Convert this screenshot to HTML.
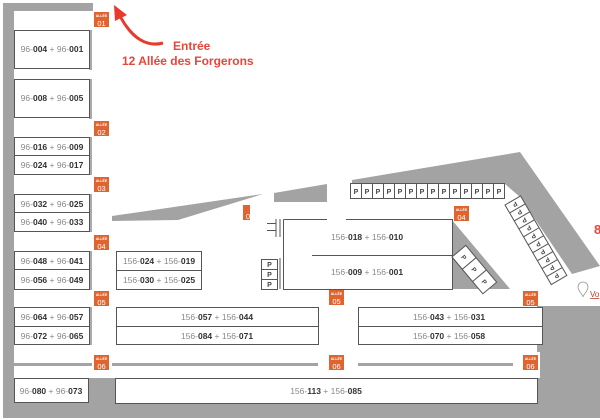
<!DOCTYPE html>
<html><head><meta charset="utf-8"><style>
html,body{margin:0;padding:0;background:#fff;}
body{width:600px;height:420px;overflow:hidden;position:relative;font-family:"Liberation Sans",sans-serif;}
svg{position:absolute;left:0;top:0;}
.l{font-family:"Liberation Sans",sans-serif;font-size:8.5px;fill:#888;}
.l tspan.b{fill:#333;font-weight:bold;}
.p{font-family:"Liberation Sans",sans-serif;font-size:7px;fill:#444;font-weight:bold;}
</style></head><body>
<svg width="600" height="420" viewBox="0 0 600 420">
<defs>
<g id="badge"><rect x="0" y="0" width="15" height="15" fill="#e0642f"/><text x="7.5" y="5" font-size="3.5" fill="#fff" text-anchor="middle" font-family="Liberation Sans" font-weight="bold">ALLÉE</text></g>
</defs>
<rect x="3" y="3" width="11" height="415" rx="3" fill="#a3a3a3"/>
<rect x="3" y="3" width="90" height="8" fill="#a3a3a3"/>
<rect x="3" y="402" width="597" height="16" fill="#a3a3a3"/>
<rect x="537" y="306" width="63" height="100" fill="#a3a3a3"/>
<rect x="86" y="376" width="32" height="30" fill="#a3a3a3"/>
<rect x="14" y="352" width="526" height="26" fill="#fff"/>
<rect x="89" y="30" width="3" height="40" fill="#aaa"/>
<rect x="89" y="79" width="3" height="40" fill="#aaa"/>
<rect x="89" y="137" width="3" height="38" fill="#aaa"/>
<rect x="89" y="194" width="3" height="38" fill="#aaa"/>
<rect x="89" y="251" width="3" height="39" fill="#aaa"/>
<rect x="89" y="307" width="3" height="38" fill="#aaa"/>
<rect x="14" y="363" width="78" height="3" fill="#a3a3a3"/>
<rect x="112" y="363" width="206" height="3" fill="#a3a3a3"/>
<rect x="358" y="363" width="155" height="3" fill="#a3a3a3"/>
<polygon points="112,221 178,220 263,194 112,216" fill="#a3a3a3"/>
<polygon points="274,193 327,184 327,202 274,202" fill="#a3a3a3"/>
<polygon points="352,180 520,152 600,266 572,274 520,197 505,184 352,184" fill="#a3a3a3"/>
<polygon points="452,220 510,289 452,289" fill="#a3a3a3"/>
<g fill="#fff" stroke="#555" stroke-width="1">
<rect x="14.5" y="30.5" width="75" height="38"/>
<rect x="14.5" y="79.5" width="75" height="38"/>
<rect x="14.5" y="137.5" width="75" height="18"/>
<rect x="14.5" y="155.5" width="75" height="19"/>
<rect x="14.5" y="194.5" width="75" height="18"/>
<rect x="14.5" y="212.5" width="75" height="19"/>
<rect x="14.5" y="251.5" width="75" height="18"/>
<rect x="14.5" y="269.5" width="75" height="20"/>
<rect x="14.5" y="307.5" width="75" height="19"/>
<rect x="14.5" y="326.5" width="75" height="18"/>
<rect x="14.5" y="378.5" width="74" height="24"/>
<rect x="116.5" y="251.5" width="85" height="19"/>
<rect x="116.5" y="270.5" width="85" height="19"/>
<rect x="116.5" y="307.5" width="202" height="19"/>
<rect x="116.5" y="326.5" width="202" height="18"/>
<rect x="358.5" y="307.5" width="184" height="19"/>
<rect x="358.5" y="326.5" width="184" height="18"/>
<rect x="115.5" y="378.5" width="422" height="25"/>
</g>
<rect x="283" y="219" width="169" height="70" fill="#fff"/>
<path d="M283.5 219.5 H327 M346 219.5 H452.5 V289.5 H283.5 V219.5 M312 255.5 H452" fill="none" stroke="#555" stroke-width="1"/>
<path d="M267 223.5 H276 M267 230.5 H276 M276 219 V237 M280 219 V237" stroke="#555" fill="none"/>
<g fill="#fff" stroke="#555"><rect x="261.5" y="259.5" width="16" height="10"/><rect x="261.5" y="269.5" width="16" height="10"/><rect x="261.5" y="279.5" width="16" height="10"/></g>
<path d="M280 258 V289" stroke="#555"/>
<text class="p" x="269.5" y="267" text-anchor="middle">P</text><text class="p" x="269.5" y="277" text-anchor="middle">P</text><text class="p" x="269.5" y="287" text-anchor="middle">P</text>
<rect x="350.5" y="183.5" width="154" height="15" fill="#fff" stroke="#555"/>
<g stroke="#555">
<path d="M361.5 183.5V198.5M372.5 183.5V198.5M383.5 183.5V198.5M394.5 183.5V198.5M405.5 183.5V198.5M416.5 183.5V198.5M427.5 183.5V198.5M438.5 183.5V198.5M449.5 183.5V198.5M460.5 183.5V198.5M471.5 183.5V198.5M482.5 183.5V198.5M493.5 183.5V198.5"/>
</g>
<g text-anchor="middle">
<text class="p" x="356" y="194">P</text><text class="p" x="367" y="194">P</text><text class="p" x="378" y="194">P</text><text class="p" x="389" y="194">P</text><text class="p" x="400" y="194">P</text><text class="p" x="411" y="194">P</text><text class="p" x="422" y="194">P</text><text class="p" x="433" y="194">P</text><text class="p" x="444" y="194">P</text><text class="p" x="455" y="194">P</text><text class="p" x="466" y="194">P</text><text class="p" x="477" y="194">P</text><text class="p" x="488" y="194">P</text><text class="p" x="499" y="194">P</text>
</g>
<g transform="translate(505,205) rotate(59.8)">
<rect x="0" y="-18" width="92" height="18" fill="#fff" stroke="#555"/>
<path d="M9.2 -18V0M18.4 -18V0M27.6 -18V0M36.8 -18V0M46 -18V0M55.2 -18V0M64.4 -18V0M73.6 -18V0M82.8 -18V0" stroke="#555"/>
<g font-size="6.5" font-weight="bold" fill="#444" font-family="Liberation Sans" text-anchor="middle">
<text x="4.6" y="-6.5" transform="rotate(90 4.6 -9)">P</text><text x="13.8" y="-6.5" transform="rotate(90 13.8 -9)">P</text><text x="23" y="-6.5" transform="rotate(90 23 -9)">P</text><text x="32.2" y="-6.5" transform="rotate(90 32.2 -9)">P</text><text x="41.4" y="-6.5" transform="rotate(90 41.4 -9)">P</text><text x="50.6" y="-6.5" transform="rotate(90 50.6 -9)">P</text><text x="59.8" y="-6.5" transform="rotate(90 59.8 -9)">P</text><text x="69" y="-6.5" transform="rotate(90 69 -9)">P</text><text x="78.2" y="-6.5" transform="rotate(90 78.2 -9)">P</text><text x="87.4" y="-6.5" transform="rotate(90 87.4 -9)">P</text>
</g></g>
<g transform="translate(452,257) rotate(50)">
<rect x="0" y="-18" width="48" height="18" fill="#fff" stroke="#555"/>
<path d="M16 -18V0M32 -18V0" stroke="#555"/>
<g font-size="6.5" font-weight="bold" fill="#444" font-family="Liberation Sans" text-anchor="middle">
<text x="8" y="-6.5">P</text><text x="24" y="-6.5">P</text><text x="40" y="-6.5">P</text></g></g>
<text class="l" x="52" y="52" text-anchor="middle">96-<tspan class="b">004</tspan> + 96-<tspan class="b">001</tspan></text>
<text class="l" x="52" y="101" text-anchor="middle">96-<tspan class="b">008</tspan> + 96-<tspan class="b">005</tspan></text>
<text class="l" x="52" y="150" text-anchor="middle">96-<tspan class="b">016</tspan> + 96-<tspan class="b">009</tspan></text>
<text class="l" x="52" y="168" text-anchor="middle">96-<tspan class="b">024</tspan> + 96-<tspan class="b">017</tspan></text>
<text class="l" x="52" y="207" text-anchor="middle">96-<tspan class="b">032</tspan> + 96-<tspan class="b">025</tspan></text>
<text class="l" x="52" y="225" text-anchor="middle">96-<tspan class="b">040</tspan> + 96-<tspan class="b">033</tspan></text>
<text class="l" x="52" y="264" text-anchor="middle">96-<tspan class="b">048</tspan> + 96-<tspan class="b">041</tspan></text>
<text class="l" x="52" y="283" text-anchor="middle">96-<tspan class="b">056</tspan> + 96-<tspan class="b">049</tspan></text>
<text class="l" x="52" y="320" text-anchor="middle">96-<tspan class="b">064</tspan> + 96-<tspan class="b">057</tspan></text>
<text class="l" x="52" y="339" text-anchor="middle">96-<tspan class="b">072</tspan> + 96-<tspan class="b">065</tspan></text>
<text class="l" x="51" y="394" text-anchor="middle">96-<tspan class="b">080</tspan> + 96-<tspan class="b">073</tspan></text>
<text class="l" x="159" y="264" text-anchor="middle">156-<tspan class="b">024</tspan> + 156-<tspan class="b">019</tspan></text>
<text class="l" x="159" y="283" text-anchor="middle">156-<tspan class="b">030</tspan> + 156-<tspan class="b">025</tspan></text>
<text class="l" x="367" y="240" text-anchor="middle">156-<tspan class="b">018</tspan> + 156-<tspan class="b">010</tspan></text>
<text class="l" x="367" y="275" text-anchor="middle">156-<tspan class="b">009</tspan> + 156-<tspan class="b">001</tspan></text>
<text class="l" x="217" y="320" text-anchor="middle">156-<tspan class="b">057</tspan> + 156-<tspan class="b">044</tspan></text>
<text class="l" x="217" y="339" text-anchor="middle">156-<tspan class="b">084</tspan> + 156-<tspan class="b">071</tspan></text>
<text class="l" x="449" y="320" text-anchor="middle">156-<tspan class="b">043</tspan> + 156-<tspan class="b">031</tspan></text>
<text class="l" x="449" y="339" text-anchor="middle">156-<tspan class="b">070</tspan> + 156-<tspan class="b">058</tspan></text>
<text class="l" x="326" y="394" text-anchor="middle">156-<tspan class="b">113</tspan> + 156-<tspan class="b">085</tspan></text>
<g font-family="Liberation Sans" font-size="7.5" fill="#fff" text-anchor="middle">
<use href="#badge" x="94" y="12"/><text x="101.5" y="26">01</text>
<use href="#badge" x="94" y="121"/><text x="101.5" y="135">02</text>
<use href="#badge" x="94" y="177"/><text x="101.5" y="191">03</text>
<use href="#badge" x="94" y="235"/><text x="101.5" y="249">04</text>
<use href="#badge" x="94" y="291"/><text x="101.5" y="305">05</text>
<use href="#badge" x="94" y="355"/><text x="101.5" y="369">06</text>
<use href="#badge" x="454" y="206"/><text x="461.5" y="220">04</text>
<use href="#badge" x="329" y="290"/><text x="336.5" y="304">05</text>
<use href="#badge" x="329" y="355"/><text x="336.5" y="369">06</text>
<use href="#badge" x="523" y="291"/><text x="530.5" y="305">05</text>
<use href="#badge" x="523" y="355"/><text x="530.5" y="369">06</text>
<rect x="243" y="205" width="7" height="15" fill="#e0642f"/><text x="248" y="219">0</text>
</g>
<path d="M163 43 C148 47 132 40 119 14" fill="none" stroke="#e8392b" stroke-width="3"/>
<polygon points="114,5 127,15 115,21" fill="#e8392b"/>
<text x="173" y="50" font-family="Liberation Sans" font-weight="bold" font-size="12" fill="#e8463a">Entrée</text>
<text x="122" y="65" font-family="Liberation Sans" font-weight="bold" font-size="12" fill="#e8463a">12 Allée des Forgerons</text>
<text x="594" y="234" font-family="Liberation Sans" font-weight="bold" font-size="13" fill="#e8463a">8</text>
<path d="M578 287 a5 5 0 1 1 10 0 c0 4 -5 8 -5 10 c0 -2 -5 -6 -5 -10z" fill="none" stroke="#999" stroke-width="0.8"/>
<text x="590" y="297" font-family="Liberation Sans" font-size="8" fill="#c0392b" text-decoration="underline">Vo</text>
</svg>
</body></html>
